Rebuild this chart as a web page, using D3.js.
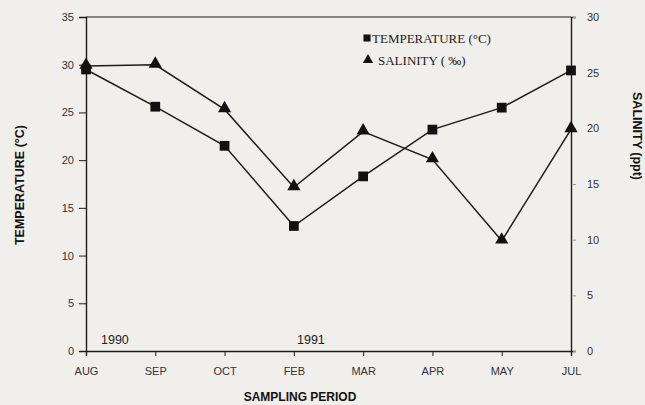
<!DOCTYPE html>
<html>
<head>
<meta charset="utf-8">
<script src="https://cdn.jsdelivr.net/npm/d3@7"></script>
<style>
  body { margin: 0; background: #f1efeb; }
  svg { display: block; }
  .tick text { font-family: "Liberation Sans", Arial, sans-serif; font-size: 11px; fill: #333; }
</style>
</head>
<body>
<svg width="645" height="405"></svg>
<script>
// data
const months = ["AUG", "SEP", "OCT", "FEB", "MAR", "APR", "MAY", "JUL"];
const temperature = [29.5, 25.6, 21.5, 13.1, 18.3, 23.2, 25.5, 29.4];
const salinity = [25.6, 25.7, 21.7, 14.7, 19.7, 17.2, 9.9, 19.9];
const tempTicks = [0, 5, 10, 15, 20, 25, 30, 35];
const salTicks = [0, 5, 10, 15, 20, 25, 30];

const svg = d3.select("svg");
const ink = "#1c1c1c";

const x = d3.scalePoint().domain(months).range([86, 571]);
const yT = d3.scaleLinear().domain([0, 35]).range([351, 17]);
const yS = d3.scaleLinear().domain([0, 30]).range([351, 17]);

// axes
const gl = svg.append("g").attr("transform", "translate(86,0)")
  .call(d3.axisLeft(yT).tickValues(tempTicks).tickSize(7).tickPadding(5));
const gr = svg.append("g").attr("transform", "translate(571,0)")
  .call(d3.axisRight(yS).tickValues(salTicks).tickSize(5).tickPadding(11));
const gb = svg.append("g").attr("transform", "translate(0,351)")
  .call(d3.axisBottom(x).tickSize(5).tickPadding(11));
[gl, gr, gb].forEach(g => {
  g.select(".domain").attr("stroke", ink).attr("stroke-width", 1.4);
  g.selectAll(".tick line").attr("stroke", ink);
});
gr.selectAll(".tick line").attr("stroke", "#999").attr("x1", 2);

// top frame line
svg.append("line")
  .attr("x1", 86).attr("x2", 571)
  .attr("y1", yT(35)).attr("y2", yT(35))
  .attr("stroke", ink).attr("stroke-width", 1.2);

// series lines
const lineT = d3.line().x((d, i) => x(months[i])).y(d => yT(d));
const lineS = d3.line().x((d, i) => x(months[i])).y(d => yS(d));
svg.append("path").datum(temperature).attr("d", lineT)
  .attr("fill", "none").attr("stroke", ink).attr("stroke-width", 1.5);
svg.append("path").datum(salinity).attr("d", lineS)
  .attr("fill", "none").attr("stroke", ink).attr("stroke-width", 1.5);

const sq = d3.symbol().type(d3.symbolSquare).size(95);
const tri = d3.symbol().type(d3.symbolTriangle).size(75);

svg.append("g").selectAll("path").data(temperature).join("path")
  .attr("d", sq)
  .attr("transform", (d, i) => `translate(${x(months[i])},${yT(d)})`)
  .attr("fill", "#111");
svg.append("g").selectAll("path").data(salinity).join("path")
  .attr("d", tri)
  .attr("transform", (d, i) => `translate(${x(months[i])},${yS(d) - 1})`)
  .attr("fill", "#111");

// legend
const leg = svg.append("g").style("font-family", "'Liberation Serif', 'Times New Roman', serif")
  .style("font-size", "13px").attr("fill", "#222");
leg.append("path").attr("d", d3.symbol().type(d3.symbolSquare).size(50))
  .attr("transform", "translate(367,38)").attr("fill", "#111");
leg.append("text").attr("x", 372).attr("y", 42.5).text("TEMPERATURE (°C)");
leg.append("path").attr("d", d3.symbol().type(d3.symbolTriangle).size(45))
  .attr("transform", "translate(368,60)").attr("fill", "#111");
leg.append("text").attr("x", 378).attr("y", 64.5).text("SALINITY ( ‰)");

// year labels
const sans = "'Liberation Sans', Arial, sans-serif";
svg.append("text").attr("x", 101).attr("y", 344).attr("font-family", sans)
  .attr("font-size", 12.5).attr("fill", "#222").text("1990");
svg.append("text").attr("x", 297).attr("y", 344).attr("font-family", sans)
  .attr("font-size", 12.5).attr("fill", "#222").text("1991");

// axis titles
svg.append("text").attr("x", 300).attr("y", 401).attr("text-anchor", "middle")
  .attr("font-family", sans).attr("font-weight", "bold").attr("font-size", 12)
  .attr("fill", "#111").text("SAMPLING PERIOD");
svg.append("text").attr("transform", "translate(24,185) rotate(-90)")
  .attr("text-anchor", "middle").attr("font-family", sans).attr("font-weight", "bold")
  .attr("font-size", 12.5).attr("fill", "#111").text("TEMPERATURE (°C)");
svg.append("text").attr("transform", "translate(633,136) rotate(90)")
  .attr("text-anchor", "middle").attr("font-family", sans).attr("font-weight", "bold")
  .attr("font-size", 12.5).attr("fill", "#111").text("SALINITY (ppt)");
</script>
</body>
</html>
